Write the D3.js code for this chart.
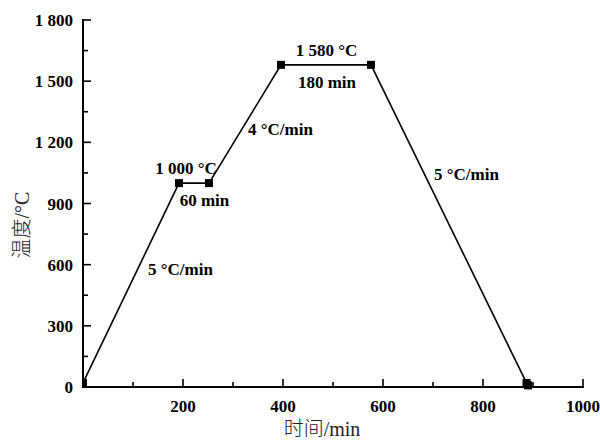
<!DOCTYPE html>
<html>
<head>
<meta charset="utf-8">
<script src="https://cdn.jsdelivr.net/npm/d3@7"></script>
<style>
  html, body { margin: 0; padding: 0; background: #fff; }
  svg { display: block; }
</style>
</head>
<body>
<svg id="chart" width="600" height="443"></svg>
<script>
// Heating schedule: time (min) and temperature (°C) at each turning point
const times = [0, 192, 252, 396, 576, 887, 890];
const temps = [20, 1000, 1000, 1580, 1580, 20, 8];

// Axis ticks
const xTicks = [200, 400, 600, 800, 1000];
const xMinorTicks = [100, 300, 500, 700, 900];
const yTicks = [0, 300, 600, 900, 1200, 1500, 1800];
const yMinorTicks = [150, 450, 750, 1050, 1350, 1650];
const yTickLabels = ["0", "300", "600", "900", "1 200", "1 500", "1 800"];

// Annotation texts with their anchor (time, temperature)
const noteText = ["1 000 °C", "60 min", "1 580 °C", "180 min", "4 °C/min", "5 °C/min", "5 °C/min"];
const noteTime = [206, 243, 487, 488, 395, 195, 767];
const noteTemp = [1045, 888, 1623, 1466, 1236, 549, 1015];

const svg = d3.select("#chart");
const x = d3.scaleLinear().domain([0, 1000]).range([83, 583]);
const y = d3.scaleLinear().domain([0, 1800]).range([387, 20]);

const serif = "'Liberation Serif', 'Times New Roman', serif";

svg.append("defs").append("clipPath").attr("id", "plotClip")
  .append("rect").attr("x", 83).attr("y", 0).attr("width", 505).attr("height", 390);

const pts = times.map((t, i) => [t, temps[i]]);

const plot = svg.append("g").attr("clip-path", "url(#plotClip)");
plot.append("path")
  .datum(pts)
  .attr("fill", "none")
  .attr("stroke", "#000")
  .attr("stroke-width", 1.6)
  .attr("d", d3.line().x(d => x(d[0])).y(d => y(d[1])));

const ms = 8;
plot.selectAll("rect.marker").data(pts).join("rect")
  .attr("class", "marker")
  .attr("x", d => x(d[0]) - ms / 2)
  .attr("y", d => y(d[1]) - ms / 2)
  .attr("width", ms).attr("height", ms)
  .attr("fill", "#000");

// Axes (inward ticks)
const xAxis = svg.append("g").attr("transform", "translate(0,387)");
xAxis.append("line").attr("x1", 82).attr("x2", 584).attr("y1", 0).attr("y2", 0)
  .attr("stroke", "#000").attr("stroke-width", 2);
xAxis.selectAll("line.maj").data(xTicks).join("line").attr("class", "maj")
  .attr("x1", d => x(d)).attr("x2", d => x(d)).attr("y1", 0).attr("y2", -8)
  .attr("stroke", "#000").attr("stroke-width", 1.6);
xAxis.selectAll("line.min").data(xMinorTicks).join("line").attr("class", "min")
  .attr("x1", d => x(d)).attr("x2", d => x(d)).attr("y1", 0).attr("y2", -5)
  .attr("stroke", "#000").attr("stroke-width", 1.6);
xAxis.selectAll("text").data(xTicks).join("text")
  .attr("x", d => x(d)).attr("y", 25)
  .attr("text-anchor", "middle")
  .attr("font-family", serif).attr("font-weight", "bold").attr("font-size", 17)
  .text(d => d);

const yAxis = svg.append("g").attr("transform", "translate(83,0)");
yAxis.append("line").attr("x1", 0).attr("x2", 0).attr("y1", 19).attr("y2", 388)
  .attr("stroke", "#000").attr("stroke-width", 2);
yAxis.selectAll("line.maj").data(yTicks).join("line").attr("class", "maj")
  .attr("x1", 0).attr("x2", 8).attr("y1", d => y(d)).attr("y2", d => y(d))
  .attr("stroke", "#000").attr("stroke-width", 1.6);
yAxis.selectAll("line.min").data(yMinorTicks).join("line").attr("class", "min")
  .attr("x1", 0).attr("x2", 5).attr("y1", d => y(d)).attr("y2", d => y(d))
  .attr("stroke", "#000").attr("stroke-width", 1.6);
yAxis.selectAll("text").data(yTicks).join("text")
  .attr("x", -10).attr("y", d => y(d) + 6)
  .attr("text-anchor", "end")
  .attr("font-family", serif).attr("font-weight", "bold").attr("font-size", 17)
  .text((d, i) => yTickLabels[i]);

// Axis titles
const cjk = "'Noto Sans CJK SC', sans-serif";
const xt = svg.append("text").attr("x", 322).attr("y", 436)
  .attr("text-anchor", "middle").attr("font-size", 20).attr("fill", "#222");
xt.append("tspan").attr("font-family", cjk).attr("font-weight", 300).text("时间");
xt.append("tspan").attr("font-family", serif).text("/min");

const yt = svg.append("text").attr("transform", "translate(29,225) rotate(-90)")
  .attr("text-anchor", "middle").attr("font-size", 20).attr("fill", "#222");
yt.append("tspan").attr("font-family", cjk).attr("font-weight", 300).text("温度");
yt.append("tspan").attr("font-family", serif).text("/°C");

// Annotations
svg.selectAll("text.note").data(noteText).join("text").attr("class", "note")
  .attr("x", (d, i) => x(noteTime[i]))
  .attr("y", (d, i) => y(noteTemp[i]))
  .attr("text-anchor", "middle")
  .attr("font-family", serif).attr("font-weight", "bold").attr("font-size", 17)
  .text(d => d);
</script>
</body>
</html>
